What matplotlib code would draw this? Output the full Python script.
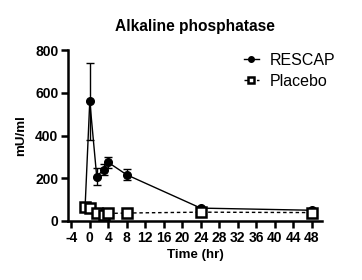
import numpy as np
import matplotlib
matplotlib.use('Agg')
from matplotlib import pyplot as plt

plt.rcParams['font.family'] = ['Liberation Sans', 'DejaVu Sans']

# data
time_rescap = [-1, 0, 1.5, 3, 4, 8, 24, 48]
rescap = [72, 561, 208, 240, 274, 216, 60, 50]
rescap_err = [8, 180, 40, 25, 25, 25, 6, 5]

time_placebo = [-1, 0, 1.5, 3, 4, 8, 24, 48]
placebo = [65, 60, 36, 30, 35, 37, 41, 39]

xticks = np.arange(-4, 49, 4)
yticks = [0, 200, 400, 600, 800]

fig = plt.figure(figsize=(3.62, 2.8), dpi=100)
ax = fig.add_axes([0.188, 0.211, 0.701, 0.610])

ax.errorbar(time_rescap, rescap, yerr=rescap_err, fmt='none', ecolor='black',
            capsize=3, elinewidth=1, capthick=1, zorder=3)
ax.plot(time_rescap, rescap, color='black', lw=1, marker='o', ms=5.5,
        mfc='black', label='RESCAP', zorder=3)
ax.plot(time_placebo, placebo, color='black', lw=1, ls=(0, (2.5, 2)),
        marker='s', ms=6.5, mfc='white', mew=1.8, label='Placebo', zorder=4)

ax.set_xlim(-4.7, 50.2)
ax.set_ylim(0, 800)
ax.set_xticks(xticks)
ax.set_yticks(yticks)
ax.set_xticklabels([str(t) for t in xticks], fontsize=10, fontweight='bold')
ax.set_yticklabels([str(t) for t in yticks], fontsize=10, fontweight='bold')

for s in ['top', 'right']:
    ax.spines[s].set_visible(False)
for s in ['left', 'bottom']:
    ax.spines[s].set_linewidth(1.8)
ax.tick_params(width=1.8, length=5, direction='out', pad=2)

ax.set_xlabel('Time (hr)', fontsize=9.6, fontweight='bold', labelpad=3)
ax.set_ylabel('mU/ml', fontsize=9.6, fontweight='bold', labelpad=6)
ax.set_title('Alkaline phosphatase', fontsize=11.2, fontweight='bold', pad=14)

leg = ax.legend(loc='upper right', bbox_to_anchor=(1.11, 1.07), frameon=False,
                fontsize=11.5, handlelength=0.9, handletextpad=0.7,
                labelspacing=0.4)
for h in leg.legend_handles:
    h.set_markersize(4)

plt.savefig('out.png', dpi=100)
